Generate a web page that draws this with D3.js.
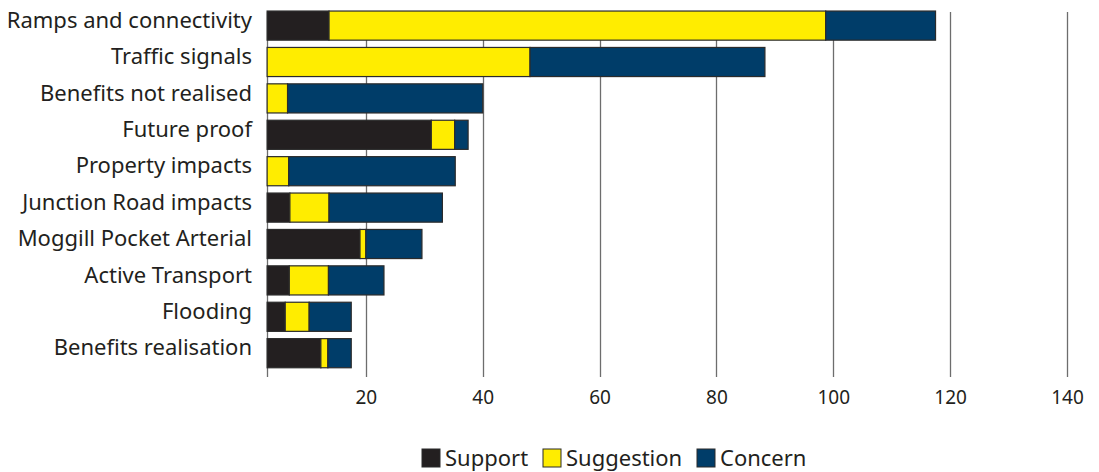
<!DOCTYPE html>
<html>
<head>
<meta charset="utf-8">
<script src="https://cdn.jsdelivr.net/npm/d3@7"></script>
<style>
  html, body { margin: 0; padding: 0; background: #fff; }
  svg { display: block; }
  text { font-family: "Noto Sans", "Open Sans", sans-serif; fill: #231f20; }
</style>
</head>
<body>
<svg id="chart" width="1099" height="472"></svg>
<script>
// ---- data ----
const categories = [
  "Ramps and connectivity",
  "Traffic signals",
  "Benefits not realised",
  "Future proof",
  "Property impacts",
  "Junction Road impacts",
  "Moggill Pocket Arterial",
  "Active Transport",
  "Flooding",
  "Benefits realisation"
];
const seriesNames = ["Support", "Suggestion", "Concern"];
const support    = [10.6, 0,    0,    28.1, 0,    3.9, 15.9, 3.8, 3.1, 9.2];
const suggestion = [85.0, 45.0, 3.5,  4.0,  3.7,  6.7, 1.0,  6.7, 4.1, 1.2];
const concern    = [18.8, 40.2, 33.4, 2.3,  28.5, 19.4, 9.6, 9.5, 7.2, 4.0];
const tickValues = [20, 40, 60, 80, 100, 120, 140];
const axisStart = 3.1;   // value where the plotted axis begins
const colors = ["#231f20", "#ffed00", "#003d69"];

// ---- build table ----
const rows = categories.map((c, i) => ({
  category: c, Support: support[i], Suggestion: suggestion[i], Concern: concern[i]
}));
const stacked = d3.stack().keys(seriesNames)(rows);

const svg = d3.select("#chart");
const x = d3.scaleLinear().domain([0, 140]).range([249, 1067]);
const y = d3.scaleBand().domain(categories).range([7.4, 371.4])
  .paddingInner(0.2).paddingOuter(0.1);
const color = d3.scaleOrdinal().domain(seriesNames).range(colors);

const plotTop = 12, plotBottom = 377;

// gridlines
svg.append("g").selectAll("line")
  .data([axisStart].concat(tickValues))
  .join("line")
  .attr("x1", d => Math.round(x(d)) + 0.5)
  .attr("x2", d => Math.round(x(d)) + 0.5)
  .attr("y1", plotTop).attr("y2", plotBottom)
  .attr("stroke", "#6d6d6d").attr("stroke-width", 1.3);

// bars
svg.append("g").selectAll("g")
  .data(stacked)
  .join("g")
  .attr("fill", d => color(d.key))
  .selectAll("rect")
  .data(d => d.filter(s => s[1] - s[0] > 0))
  .join("rect")
  .attr("x", d => x(axisStart + d[0]))
  .attr("width", d => x(axisStart + d[1]) - x(axisStart + d[0]))
  .attr("y", d => y(d.data.category))
  .attr("height", y.bandwidth())
  .attr("stroke", "#2b2b2b").attr("stroke-width", 1.2);

// category labels
svg.append("g").selectAll("text")
  .data(categories)
  .join("text")
  .attr("x", 252)
  .attr("y", d => y(d) + y.bandwidth() / 2 - 5.5)
  .attr("dy", "0.35em")
  .attr("text-anchor", "end")
  .style("font-size", "22px")
  .text(d => d);

// x axis tick labels
const axis = d3.axisBottom(x).tickValues(tickValues).tickSize(0).tickPadding(0);
const ax = svg.append("g").attr("transform", `translate(0,${plotBottom})`).call(axis);
ax.select(".domain").remove();
ax.selectAll("text")
  .attr("y", 20)
  .attr("dy", "0.35em")
  .style("font-size", "19px")
  .style("font-family", "\"Noto Sans\", sans-serif")
  .attr("fill", "#231f20");

// legend
const legendItems = [
  { name: "Support", x: 422 },
  { name: "Suggestion", x: 543 },
  { name: "Concern", x: 697 }
];
const lg = svg.append("g").selectAll("g").data(legendItems).join("g")
  .attr("transform", d => `translate(${d.x},449)`);
lg.append("rect").attr("width", 18).attr("height", 18)
  .attr("fill", d => color(d.name)).attr("stroke", "#2b2b2b").attr("stroke-width", 1);
lg.append("text").attr("x", 23).attr("y", 9).attr("dy", "0.36em")
  .style("font-size", "22px").text(d => d.name);
</script>
</body>
</html>
